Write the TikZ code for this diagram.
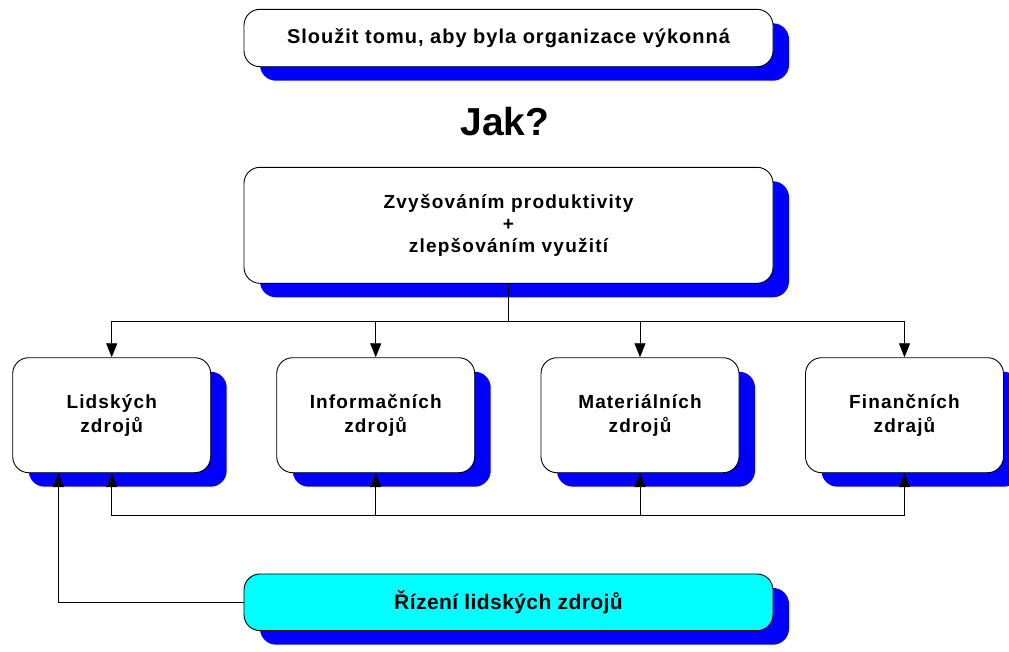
\documentclass[tikz,border=0pt]{standalone}
\usepackage{fontspec}
\setmainfont{Liberation Sans}
\newfontfamily\fTop{Liberation Sans}[LetterSpace=5]
\newfontfamily\fMain{Liberation Sans}[LetterSpace=6.5]
\newfontfamily\fSmall{Liberation Sans}[LetterSpace=6]
\newfontfamily\fBot{Liberation Sans}[LetterSpace=2]
\newfontfamily\fJak{Liberation Sans}
\usetikzlibrary{arrows.meta,shadows}
\definecolor{shadowblue}{RGB}{0,0,255}
\definecolor{aqua}{RGB}{0,255,255}
\begin{document}
\begin{tikzpicture}[x=1pt,y=-1pt,
  box/.style={draw=black, line width=0.9pt, fill=white, rounded corners=16pt,
    align=center, inner sep=0pt, text=black,
    general shadow={fill=shadowblue, shadow xshift=16pt, shadow yshift=-14pt}},
  smallbox/.style={box, minimum width=198pt, minimum height=115pt,
    font=\fSmall\bfseries\fontsize{19}{24}\selectfont},
  arr/.style={draw=black, line width=0.8pt, -{Triangle[width=11pt,length=14pt]}},
  ln/.style={draw=black, line width=0.8pt}]
\useasboundingbox (0,0) rectangle (1009,651);
\clip (0,0) rectangle (1009,651);
\fill[white] (0,0) rectangle (1009,651);

\node[box, minimum width=529pt, minimum height=57.4pt,
  font=\fTop\bfseries\fontsize{20}{24}\selectfont] (top) at (508.5,38)
  {Sloužit tomu, aby byla organizace výkonná};

\node[font=\fJak\bfseries\fontsize{39}{44}\selectfont, inner sep=0pt] (jak) at (505,122) {Jak?};

\node[box, minimum width=529pt, minimum height=116pt,
  font=\fMain\bfseries\fontsize{19}{22}\selectfont] (main) at (508.5,225.3)
  {Zvyšováním produktivity\\+\\zlepšováním využití};

\node[smallbox] (l) at (111.7,415.2) {Lidských\\zdrojů};
\node[smallbox] (i) at (375.7,415.2) {Informačních\\zdrojů};
\node[smallbox] (m) at (640,415.2) {Materiálních\\zdrojů};
\node[smallbox] (f) at (904.5,415.2) {Finančních\\zdrajů};

\node[box, fill=aqua, minimum width=529pt, minimum height=56.7pt,
  font=\fBot\bfseries\fontsize{21}{24}\selectfont] (hr) at (508.5,602.3)
  {Řízení lidských zdrojů};

% top bus
\coordinate (busT) at (508.5,321);
\draw[ln] (main.south) -- (busT);
\draw[arr] (busT) -| (l.north);
\draw[arr] (busT) -| (i.north);
\draw[arr] (busT) -| (m.north);
\draw[arr] (busT) -| (f.north);

% bottom bus
\coordinate (busB) at (508.5,515.3);
\draw[arr] (busB) -| (l.south);
\draw[arr] (busB) -| (i.south);
\draw[arr] (busB) -| (m.south);
\draw[arr] (busB) -| (f.south);

% HR link
\coordinate (lx) at (58.3,0);
\draw[arr] (hr.west) -| (lx |- l.south);
\end{tikzpicture}
\end{document}
